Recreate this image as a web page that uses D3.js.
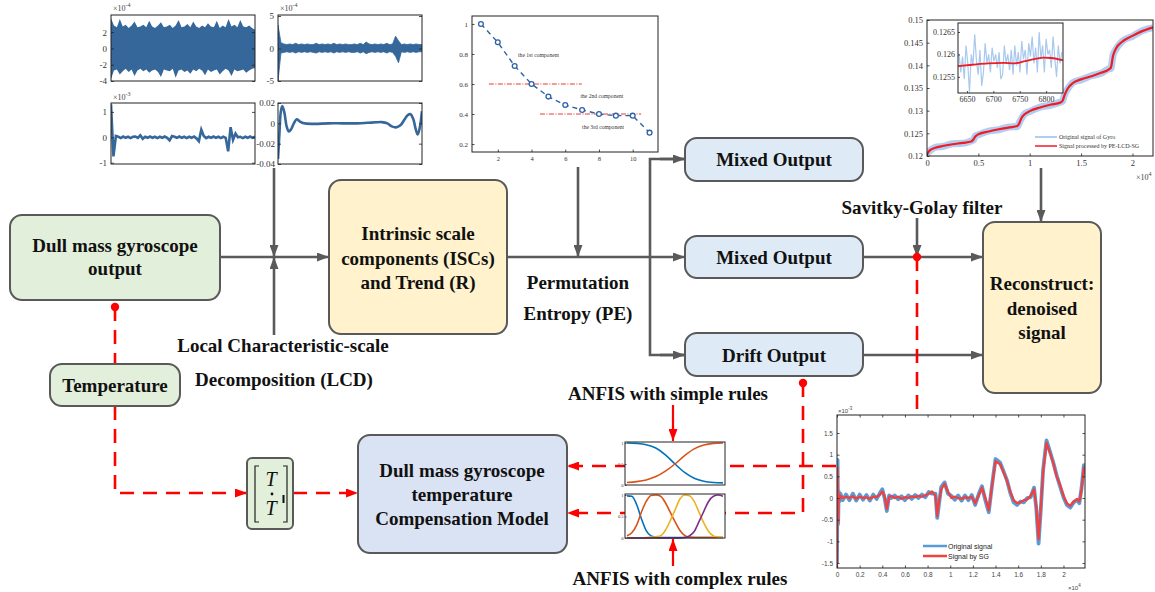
<!DOCTYPE html>
<html><head><meta charset="utf-8">
<script src="https://cdn.jsdelivr.net/npm/d3@7"></script>
<style>body{margin:0;background:#fff}svg{display:block}</style>
</head><body>
<script>
// ---------------- DATA ----------------
// ISC1 envelope (x10^-4)
const isc1Upper=[3.7,2.8,2.6,3.6,2.7,2.9,2.5,2.8,3.3,2.6,2.7,2.9,2.6,3.4,2.7,2.5,2.8,3.2,2.6,2.7,2.9,2.5,2.8,3.5,2.6,2.7,3.0,2.6,3.3,2.7,2.5,2.8,2.6,3.1,2.7,2.6,3.4,2.5,2.8,2.6,3.6,2.7,2.9,2.6,3.5,2.7,2.6,2.8,2.5,2.3];
const isc1Lower=[-3.8,-2.7,-2.6,-3.2,-2.8,-2.5,-2.9,-2.6,-3.4,-2.7,-2.5,-2.8,-2.6,-3.0,-2.7,-2.6,-2.9,-3.5,-2.6,-2.7,-2.8,-2.5,-3.6,-2.7,-2.6,-2.9,-2.7,-3.1,-2.6,-2.8,-2.5,-2.7,-3.3,-2.6,-2.9,-2.7,-2.6,-3.2,-2.8,-2.5,-2.7,-3.4,-2.6,-2.8,-2.7,-2.6,-3.0,-2.7,-2.5,-2.4];
// ISC2 envelope (x10^-4)
const isc2Upper=[3.6,0.9,0.7,0.6,0.7,0.6,0.8,0.6,0.7,0.6,0.7,0.6,0.6,0.8,0.6,0.7,0.6,0.7,0.6,0.8,0.6,0.7,0.6,0.7,0.6,0.6,0.7,0.6,0.8,0.6,1.0,0.7,0.6,0.7,0.6,0.7,0.6,0.8,0.6,0.7,1.9,1.2,0.6,0.7,0.6,0.7,0.6,0.7,0.6,0.6];
const isc2Lower=[-5,-0.7,-0.6,-0.5,-0.6,-0.5,-0.7,-0.5,-0.6,-0.5,-0.6,-0.5,-0.6,-0.7,-0.5,-0.6,-0.5,-0.6,-0.5,-0.7,-0.5,-0.6,-0.5,-0.6,-0.5,-0.6,-0.6,-0.5,-0.7,-0.5,-0.8,-0.6,-0.5,-0.6,-0.5,-0.6,-0.5,-0.7,-0.5,-0.6,-1.2,-2.2,-0.5,-0.6,-0.5,-0.6,-0.5,-0.6,-0.5,-0.5];
// ISC3 (x10^-3)
const isc3=[1.3,-0.75,0.05,0.02,-0.03,0.03,-0.02,0.02,-0.03,0.02,0.03,-0.02,0.08,-0.06,0.02,-0.02,0.03,-0.02,0.02,-0.03,0.02,-0.02,0.03,-0.02,-0.12,0.05,0.02,-0.02,0.03,-0.02,0.02,-0.03,0.02,-0.02,0.03,-0.04,-0.15,0.3,0.05,-0.03,0.02,-0.02,0.03,-0.02,0.02,-0.03,0.02,-0.02,-0.55,0.4,-0.1,0.15,0.0,0.02,-0.03,0.02,-0.02,0.03,-0.02,0.02];
// Trend
const trendX=[0,0.01,0.02,0.03,0.045,0.06,0.075,0.09,0.11,0.13,0.15,0.18,0.25,0.35,0.45,0.55,0.62,0.68,0.72,0.76,0.79,0.82,0.85,0.88,0.9,0.92,0.94,0.955,0.97,0.985,1.0];
const trendY=[-0.035,-0.01,0.012,0.017,0.01,-0.003,-0.008,-0.006,0.0,0.004,0.002,0.0,-0.0005,0.0,0.0,0.0,0.0005,0.001,0.0012,0.0,-0.003,-0.004,-0.002,0.004,0.008,0.009,0.004,-0.005,-0.011,-0.004,0.012];
// Permutation entropy
const peOrder=[1,2,3,4,5,6,7,8,9,10,11];
const peValues=[1.0,0.878,0.72,0.60,0.516,0.46,0.427,0.40,0.389,0.389,0.276];
const peThreshold=[0.6,0.4], peThFrom=[1.47,4.5], peThTo=[6.98,10.5];
const peLabels=["the 1st component","the 2nd component","the 3rd component"];
const peLabelX=[3.2,6.9,7.0], peLabelY=[0.78,0.51,0.30];
// Gyro signal (x10^4 samples)
const gyroX=[0,0.01,0.03,0.08,0.15,0.25,0.35,0.43,0.45,0.47,0.5,0.6,0.7,0.8,0.88,0.9,0.92,0.95,1.0,1.1,1.2,1.3,1.32,1.34,1.37,1.42,1.5,1.6,1.7,1.77,1.79,1.81,1.84,1.9,2.0,2.1,2.2];
const gyroFiltered=[0.1202,0.1207,0.1213,0.1218,0.1222,0.1226,0.1229,0.1232,0.1236,0.1243,0.1248,0.1254,0.1259,0.1263,0.1266,0.1273,0.1284,0.1292,0.1299,0.1307,0.1313,0.1318,0.1322,0.1335,0.1349,0.1361,0.1369,0.1376,0.1384,0.1391,0.1395,0.1420,0.1437,0.1452,0.1465,0.1476,0.1484];
const gyroRaw=[0.1203,0.1208,0.1212,0.1219,0.1221,0.1227,0.1228,0.1233,0.1235,0.1244,0.1247,0.1255,0.1258,0.1264,0.1265,0.1274,0.1283,0.1293,0.1298,0.1308,0.1312,0.1319,0.1321,0.1336,0.1348,0.1362,0.1368,0.1377,0.1383,0.1392,0.1393,0.1421,0.1436,0.1453,0.1464,0.1477,0.1483];
// Inset zoom
const insetStart=6635, insetStep=3.3;
const insetRaw=[0.12600,0.12560,0.12595,0.12545,0.12620,0.12580,0.12515,0.12600,0.12575,0.12645,0.12585,0.12555,0.12610,0.12530,0.12560,0.12625,0.12580,0.12600,0.12560,0.12615,0.12585,0.12600,0.12570,0.12605,0.12545,0.12555,0.12620,0.12580,0.12600,0.12565,0.12610,0.12555,0.12620,0.12575,0.12605,0.12560,0.12630,0.12590,0.12610,0.12555,0.12625,0.12595,0.12640,0.12580,0.12615,0.12560,0.12650,0.12590,0.12620,0.12560,0.12635,0.12600,0.12610,0.12570,0.12640,0.12590,0.12550,0.12620,0.12580,0.12605];
const insetSmoothX=[6633,6660,6690,6720,6740,6760,6780,6795,6810,6832];
const insetSmoothY=[0.12574,0.12577,0.12580,0.12581,0.12580,0.12585,0.12590,0.12593,0.12592,0.12587];
// ANFIS membership functions
const mfX1=[0,0.1,0.2,0.3,0.4,0.5,0.6,0.7,0.8,0.9,1.0];
const mfSimpleLow=[1,0.99,0.96,0.88,0.72,0.5,0.3,0.16,0.09,0.06,0.05];
const mfSimpleHigh=[0.06,0.08,0.12,0.2,0.33,0.5,0.7,0.86,0.95,0.99,1.0];
const mfX2=[0,0.05,0.1,0.15,0.2,0.25,0.3,0.35,0.4,0.45,0.5,0.55,0.6,0.65,0.7,0.75,0.8,0.85,0.9,0.95,1.0];
const mfC1=[0.98,0.97,0.78,0.45,0.17,0.05,0.02,0.01,0.01,0.01,0.01,0.01,0.01,0.01,0.01,0.01,0.01,0.01,0.01,0.01,0.01];
const mfC2=[0.05,0.12,0.3,0.6,0.85,0.99,1.0,0.97,0.82,0.6,0.38,0.18,0.06,0.02,0.01,0.01,0.01,0.01,0.01,0.01,0.01];
const mfC3=[0,0,0,0,0.01,0.02,0.03,0.05,0.18,0.4,0.65,0.9,1.0,0.98,0.85,0.6,0.35,0.15,0.05,0.02,0.01];
const mfC4=[0,0,0,0,0,0,0,0,0,0,0,0,0.01,0.05,0.15,0.38,0.62,0.85,0.97,1.0,0.97];
// SG filter result (x10^-3 vs x10^4 samples)
const sgX=[0,0.005,0.01,0.015,0.02,0.03,0.05,0.08,0.11,0.14,0.17,0.2,0.23,0.26,0.29,0.32,0.35,0.38,0.4,0.42,0.44,0.46,0.48,0.51,0.54,0.57,0.6,0.63,0.66,0.69,0.72,0.75,0.78,0.81,0.84,0.87,0.885,0.9,0.92,0.95,0.98,1.01,1.04,1.07,1.1,1.13,1.16,1.19,1.22,1.25,1.28,1.31,1.34,1.37,1.4,1.44,1.47,1.5,1.53,1.56,1.59,1.62,1.65,1.68,1.71,1.74,1.76,1.78,1.8,1.82,1.85,1.88,1.91,1.94,1.97,2.0,2.03,2.06,2.09,2.12,2.14,2.16,2.18,2.19];
const sgFiltered=[-1.6,0.7,-0.55,0.1,-0.05,0.05,0.0,0.03,0.0,0.04,-0.02,0.03,0.0,0.02,-0.02,0.03,0.02,0.08,0.15,0.05,-0.25,0.02,0.05,0.0,0.03,-0.02,0.02,0.0,0.04,0.02,0.05,0.03,0.06,0.1,0.15,0.05,-0.42,-0.1,0.2,0.33,0.15,0.0,0.03,0.0,-0.02,0.02,0.0,0.03,-0.12,0.05,0.24,0.0,-0.28,0.3,0.85,0.78,0.6,0.4,0.15,-0.05,-0.12,-0.1,-0.05,-0.03,0.05,0.2,-0.2,-0.95,-0.2,0.6,1.28,1.05,0.8,0.5,0.3,0.05,-0.12,-0.18,-0.08,-0.02,-0.08,0.2,0.7,0.62];
const sgOriginal=[-1.5,0.88,-0.6,0.15,-0.08,0.1,-0.05,0.08,-0.05,0.1,-0.06,0.08,-0.04,0.07,-0.06,0.08,-0.02,0.12,0.2,0.0,-0.3,0.06,0.0,0.06,-0.03,0.04,-0.05,0.06,-0.02,0.07,0.0,0.08,0.02,0.14,0.1,0.1,-0.46,-0.15,0.25,0.36,0.1,0.05,-0.04,0.06,-0.06,0.06,-0.05,0.07,-0.16,0.08,0.27,-0.05,-0.33,0.32,0.9,0.82,0.62,0.42,0.12,-0.1,-0.16,-0.08,-0.1,0.0,0.02,0.24,-0.25,-1.05,-0.25,0.65,1.33,1.08,0.82,0.52,0.27,0.02,-0.16,-0.22,-0.1,-0.05,-0.12,0.24,0.76,0.66];
// tick values
const gyroYTicks=[0.12,0.125,0.13,0.135,0.14,0.145,0.15], gyroXTicks=[0,0.5,1,1.5,2];
const insetYTicks=[0.1255,0.126,0.1265], insetXTicks=[6650,6700,6750,6800];
const sgYTicks=[-1.5,-1,-0.5,0,0.5,1,1.5], sgXTicks=[0,0.2,0.4,0.6,0.8,1,1.2,1.4,1.6,1.8,2];
const peYTicks=[0.2,0.4,0.6,0.8,1], peXTicks=[2,4,6,8,10];

// ---------------- DRAWING ----------------
const W=1155,H=592;
const SERIF="'Liberation Serif','Times New Roman',serif";
const SANS="'Liberation Sans',Arial,sans-serif";
const GRAY="#5a5a5a", RED="#ff0000";
const svg=d3.select("body").append("svg").attr("width",W).attr("height",H);
const defs=svg.append("defs");
function marker(id,color){
  defs.append("marker").attr("id",id).attr("viewBox","0 0 12 9").attr("refX",12).attr("refY",4.5)
    .attr("markerWidth",12).attr("markerHeight",9).attr("markerUnits","userSpaceOnUse").attr("orient","auto")
    .append("path").attr("d","M0,0L12,4.5L0,9Z").attr("fill",color);
}
marker("ag",GRAY); marker("ar",RED);
let clipN=0;
function clip(x,y,w,h){const id="c"+(clipN++);defs.append("clipPath").attr("id",id).append("rect").attr("x",x).attr("y",y).attr("width",w).attr("height",h);return "url(#"+id+")";}

const gLines=svg.append("g"), gBoxes=svg.append("g"), gPlots=svg.append("g"), gText=svg.append("g");

function path(pts,color,dashed,arrow,width){
  const p=gLines.append("path").attr("d",d3.line()(pts)).attr("fill","none").attr("stroke",color)
    .attr("stroke-width",width||2.6);
  if(dashed)p.attr("stroke-dasharray","14,9");
  if(arrow)p.attr("marker-end","url(#"+arrow+")");
  return p;
}
function dot(x,y){gLines.append("circle").attr("cx",x).attr("cy",y).attr("r",4.2).attr("fill",RED);}
function box(x,y,w,h,fill){
  gBoxes.append("rect").attr("x",x).attr("y",y).attr("width",w).attr("height",h).attr("rx",12)
    .attr("fill",fill).attr("stroke","#595959").attr("stroke-width",2);
}
function label(lines,cx,cy,spacing,size){
  const n=lines.length;
  lines.forEach((t,i)=>{
    gText.append("text").attr("x",cx).attr("y",cy+(i-(n-1)/2)*spacing+6.5).attr("text-anchor","middle")
      .attr("font-family",SERIF).attr("font-weight","bold").attr("font-size",size||19).attr("fill","#111").text(t);
  });
}

// ---- boxes ----
box(10,215,210,85,"#e2efda");
box(50,364,130,42,"#e2efda");
box(329,180,178,154,"#fff2cc");
box(685,138,178,43,"#deebf7");
box(685,236,178,42,"#deebf7");
box(685,333,178,43,"#deebf7");
box(983,222,118,171,"#fff2cc");
box(358,435,209,118,"#dae3f3");
gBoxes.append("rect").attr("x",247).attr("y",458).attr("width",46).attr("height",71).attr("rx",5)
  .attr("fill","#e2efda").attr("stroke","#595959").attr("stroke-width",2);

// ---- texts ----
label(["Dull mass gyroscope","output"],115,257,23);
label(["Temperature"],115,385,23);
label(["Intrinsic scale","components (ISCs)","and Trend (R)"],418,258,24.5);
label(["Local Characteristic-scale"],283,345,0);
label(["Decomposition (LCD)"],284,379,0);
label(["Permutation"],578,282,0);
label(["Entropy (PE)"],578,313,0);
label(["Mixed Output"],774,159,0);
label(["Mixed Output"],774,257,0);
label(["Drift Output"],774,355,0);
label(["Savitky-Golay filter"],922,207,0);
label(["Reconstruct:","denoised","signal"],1042,308,24.5);
label(["Dull mass gyroscope","temperature","Compensation Model"],462,494,24);
label(["ANFIS with simple rules"],668,393,0);
label(["ANFIS with complex rules"],680,578,0);

// T matrix
const tg=gText.append("g");
tg.append("path").attr("d","M259,466H255V522H259M283,466H287V522H283").attr("fill","none").attr("stroke","#222").attr("stroke-width",1.2);
tg.append("text").attr("x",271).attr("y",486).attr("text-anchor","middle").attr("font-family",SERIF).attr("font-style","italic").attr("font-size",20).attr("fill","#111").text("T");
tg.append("text").attr("x",271).attr("y",515).attr("text-anchor","middle").attr("font-family",SERIF).attr("font-style","italic").attr("font-size",20).attr("fill","#111").text("T");
tg.append("circle").attr("cx",272).attr("cy",494).attr("r",1.4).attr("fill","#111");
tg.append("rect").attr("x",282.5).attr("y",495).attr("width",2).attr("height",8).attr("fill","#111");

// ---- gray connectors ----
path([[220,257],[329,257]],GRAY,false,"ag");
path([[274,168],[274,257]],GRAY,false,"ag");
path([[274,335],[274,257]],GRAY,false,"ag");
path([[507,257],[685,257]],GRAY,false,"ag");
path([[578,167],[578,257]],GRAY,false,"ag");
path([[685,159],[650,159],[650,355],[685,355]],GRAY,false,null);
path([[660,159],[685,159]],GRAY,false,"ag");
path([[660,355],[685,355]],GRAY,false,"ag");
path([[863,257],[983,257]],GRAY,false,"ag");
path([[863,355],[983,355]],GRAY,false,"ag");
path([[917,218],[917,257]],GRAY,false,"ag");
path([[1041,168],[1041,222]],GRAY,false,"ag");

// ---- red connectors ----
path([[115,307],[115,364]],RED,true,null);
path([[115,406],[115,493],[247,493]],RED,true,"ar");
path([[293,493],[358,493]],RED,true,"ar");
path([[917,257],[917,417]],RED,true,null);
path([[836,466],[567,466]],RED,true,"ar");
path([[803,383],[803,513],[567,513]],RED,true,"ar");
path([[673,405],[673,441]],RED,false,"ar",2.2);
path([[673,566],[673,539]],RED,false,"ar",2.2);
dot(115,307); dot(917,257); dot(803,383);

// ---------------- mini plots ----------------
function frame(g,x,y,w,h,bg){
  if(bg)g.append("rect").attr("x",x).attr("y",y).attr("width",w).attr("height",h).attr("fill","#fff");
  return ()=>g.append("rect").attr("x",x).attr("y",y).attr("width",w).attr("height",h).attr("fill","none").attr("stroke","#222").attr("stroke-width",1);
}
function axis(g,gen,tx,ty,font,size,color){
  const a=g.append("g").attr("transform",`translate(${tx},${ty})`).call(gen);
  a.attr("font-family",font).attr("font-size",size);
  a.select(".domain").remove();
  a.selectAll("line").attr("stroke","#222").attr("stroke-width",0.8);
  a.selectAll("text").attr("fill",color||"#333");
  return a;
}
function expLabel(g,x,y,base,exp,font,size){
  const t=g.append("text").attr("x",x).attr("y",y).attr("font-family",font).attr("font-size",size).attr("fill","#444");
  t.append("tspan").text(base);
  t.append("tspan").attr("dy",-size*0.45).attr("font-size",size*0.75).text(exp);
}
const fmtStr=d=>String(d);
const BLUE="#35679b";

// Plot 1: ISC1
(function(){
  const g=gPlots.append("g"); const x0=111,y0=15,w=144,h=66;
  const close=frame(g,x0,y0,w,h,true);
  const x=d3.scaleLinear([0,isc1Upper.length-1],[x0,x0+w]);
  const y=d3.scaleLinear([-4,4.1],[y0+h,y0]);
  g.append("path").attr("clip-path",clip(x0,y0,w,h)).attr("fill",BLUE)
    .attr("d",d3.area().x((d,i)=>x(i)).y0((d,i)=>y(isc1Lower[i])).y1(d=>y(d))(isc1Upper));
  axis(g,d3.axisLeft(y).tickValues([-4,-2,0,2]).tickSize(-3).tickPadding(4).tickFormat(fmtStr),x0,0,SERIF,9);
  axis(g,d3.axisRight(y).tickValues([-4,-2,0,2]).tickSize(-3).tickFormat(""),x0+w,0,SERIF,9);
  expLabel(g,x0+2,11,"×10","-4",SERIF,8);
  close();
})();
// Plot 2: ISC2
(function(){
  const g=gPlots.append("g"); const x0=278,y0=15,w=144,h=66;
  const close=frame(g,x0,y0,w,h,true);
  const x=d3.scaleLinear([0,isc2Upper.length-1],[x0,x0+w]);
  const y=d3.scaleLinear([-5,5],[y0+h,y0+1]);
  g.append("path").attr("clip-path",clip(x0,y0,w,h)).attr("fill",BLUE).attr("stroke",BLUE).attr("stroke-width",0.8)
    .attr("d",d3.area().x((d,i)=>x(i)).y0((d,i)=>y(isc2Lower[i])).y1(d=>y(d))(isc2Upper));
  axis(g,d3.axisLeft(y).tickValues([-5,0,5]).tickSize(-3).tickPadding(4).tickFormat(fmtStr),x0,0,SERIF,9);
  axis(g,d3.axisRight(y).tickValues([-5,0,5]).tickSize(-3).tickFormat(""),x0+w,0,SERIF,9);
  expLabel(g,x0+2,11,"×10","-4",SERIF,8);
  close();
})();
// Plot 3: ISC3
(function(){
  const g=gPlots.append("g"); const x0=111,y0=103,w=144,h=61;
  const close=frame(g,x0,y0,w,h,true);
  const x=d3.scaleLinear([0,isc3.length-1],[x0,x0+w]);
  const y=d3.scaleLinear([-1.05,1.35],[y0+h,y0]);
  g.append("path").attr("clip-path",clip(x0,y0,w,h)).attr("fill","none").attr("stroke",BLUE).attr("stroke-width",2.6)
    .attr("d",d3.line().x((d,i)=>x(i)).y(d=>y(d))(isc3));
  axis(g,d3.axisLeft(y).tickValues([-1,0,1]).tickSize(-3).tickPadding(4).tickFormat(fmtStr),x0,0,SERIF,9);
  axis(g,d3.axisRight(y).tickValues([-1,0,1]).tickSize(-3).tickFormat(""),x0+w,0,SERIF,9);
  expLabel(g,x0+2,100,"×10","-3",SERIF,8);
  close();
})();
// Plot 4: Trend
(function(){
  const g=gPlots.append("g"); const x0=278,y0=103,w=144,h=61;
  const close=frame(g,x0,y0,w,h,true);
  const x=d3.scaleLinear([0,1],[x0,x0+w]);
  const y=d3.scaleLinear([-0.04,0.02],[y0+h,y0]);
  g.append("path").attr("clip-path",clip(x0,y0,w,h)).attr("fill","none").attr("stroke",BLUE).attr("stroke-width",2.6)
    .attr("d",d3.line().curve(d3.curveCatmullRom).x((d,i)=>x(trendX[i])).y(d=>y(d))(trendY));
  axis(g,d3.axisLeft(y).tickValues([-0.04,-0.02,0,0.02]).tickSize(-3).tickPadding(3).tickFormat(fmtStr),x0,0,SERIF,9);
  axis(g,d3.axisRight(y).tickValues([-0.04,-0.02,0,0.02]).tickSize(-3).tickFormat(""),x0+w,0,SERIF,9);
  close();
})();
// PE plot
(function(){
  const g=gPlots.append("g"); const x0=472,y0=16,w=186,h=136;
  const close=frame(g,x0,y0,w,h,true);
  const x=d3.scaleLinear([0.47,11.5],[x0,x0+w]);
  const y=d3.scaleLinear([0.147,1.053],[y0+h,y0]);
  peThreshold.forEach((v,i)=>{
    g.append("line").attr("x1",x(peThFrom[i])).attr("x2",x(peThTo[i])).attr("y1",y(v)).attr("y2",y(v))
      .attr("stroke","#e8231e").attr("stroke-width",0.9).attr("stroke-dasharray","5,1.5,1,1.5");
  });
  g.append("path").attr("fill","none").attr("stroke","#2e62a6").attr("stroke-width",1.4).attr("stroke-dasharray","5,4")
    .attr("d",d3.line().x((d,i)=>x(peOrder[i])).y(d=>y(d))(peValues));
  g.selectAll(".pt").data(peValues).enter().append("circle").attr("cx",(d,i)=>x(peOrder[i])).attr("cy",d=>y(d))
    .attr("r",2.4).attr("fill","#fff").attr("stroke","#2e62a6").attr("stroke-width",1.3);
  peLabels.forEach((t,i)=>g.append("text").attr("x",x(peLabelX[i])).attr("y",y(peLabelY[i])).attr("font-family",SERIF).attr("font-size",5.6).attr("fill","#333").text(t));
  axis(g,d3.axisLeft(y).tickValues(peYTicks).tickSize(-2.5).tickPadding(4).tickFormat(fmtStr),x0,0,SERIF,7);
  axis(g,d3.axisBottom(x).tickValues(peXTicks).tickSize(-2.5).tickPadding(4).tickFormat(fmtStr),0,y0+h,SERIF,6.5);
  close();
})();
// Gyro plot + inset
(function(){
  const g=gPlots.append("g"); const x0=927,y0=20,w=226,h=136;
  const close=frame(g,x0,y0,w,h,true);
  const x=d3.scaleLinear([0,2.2],[x0,x0+w]);
  const y=d3.scaleLinear([0.12,0.15],[y0+h,y0]);
  const cp=clip(x0,y0,w,h);
  g.append("path").attr("clip-path",cp).attr("fill","none").attr("stroke","#b2cdef").attr("stroke-width",7)
    .attr("d",d3.line().curve(d3.curveMonotoneX).x((d,i)=>x(gyroX[i])).y(d=>y(d))(gyroRaw));
  g.append("path").attr("clip-path",cp).attr("fill","none").attr("stroke","#ee1c24").attr("stroke-width",2.2)
    .attr("d",d3.line().curve(d3.curveMonotoneX).x((d,i)=>x(gyroX[i])).y(d=>y(d))(gyroFiltered));
  axis(g,d3.axisLeft(y).tickValues(gyroYTicks).tickSize(-2.5).tickPadding(4).tickFormat(fmtStr),x0,0,SERIF,8.5);
  axis(g,d3.axisBottom(x).tickValues(gyroXTicks).tickSize(-2.5).tickPadding(4).tickFormat(fmtStr),0,y0+h,SERIF,8.5);
  expLabel(g,1136,180,"×10","4",SERIF,8);
  // legend
  g.append("line").attr("x1",1035).attr("x2",1057).attr("y1",137).attr("y2",137).attr("stroke","#b2cdef").attr("stroke-width",2);
  g.append("line").attr("x1",1035).attr("x2",1057).attr("y1",146).attr("y2",146).attr("stroke","#ee1c24").attr("stroke-width",1.5);
  g.append("text").attr("x",1059).attr("y",139).attr("font-family",SERIF).attr("font-size",6).attr("fill","#333").text("Original signal of Gyro");
  g.append("text").attr("x",1059).attr("y",148).attr("font-family",SERIF).attr("font-size",6).attr("fill","#333").text("Signal processed by PE-LCD-SG");
  close();
  // inset
  const ix0=958,iy0=23,iw=105,ih=70;
  const iclose=frame(g,ix0,iy0,iw,ih,true);
  const ix=d3.scaleLinear([6633,6832],[ix0,ix0+iw]);
  const iy=d3.scaleLinear([0.12514,0.1267],[iy0+ih,iy0]);
  const icp=clip(ix0,iy0,iw,ih);
  g.append("path").attr("clip-path",icp).attr("fill","none").attr("stroke","#a9c9ee").attr("stroke-width",1.2)
    .attr("d",d3.line().x((d,i)=>ix(insetStart+i*insetStep)).y(d=>iy(d))(insetRaw));
  g.append("path").attr("clip-path",icp).attr("fill","none").attr("stroke","#ee1c24").attr("stroke-width",1.8)
    .attr("d",d3.line().curve(d3.curveMonotoneX).x((d,i)=>ix(insetSmoothX[i])).y(d=>iy(d))(insetSmoothY));
  axis(g,d3.axisLeft(iy).tickValues(insetYTicks).tickSize(-2).tickPadding(3).tickFormat(fmtStr),ix0,0,SERIF,8);
  axis(g,d3.axisBottom(ix).tickValues(insetXTicks).tickSize(-2).tickPadding(3).tickFormat(fmtStr),0,iy0+ih,SERIF,8);
  iclose();
})();
// ANFIS simple
function mfPlot(y0,h,xs,series,colors){
  const g=gPlots.append("g"); const x0=625,w=100;
  const close=frame(g,x0,y0,w,h,true);
  const x=d3.scaleLinear([0,1],[x0+2,x0+w-2]);
  const y=d3.scaleLinear([0,1],[y0+h,y0+1]);
  series.forEach((s,k)=>g.append("path").attr("fill","none").attr("stroke",colors[k]).attr("stroke-width",1.6)
    .attr("d",d3.line().curve(d3.curveMonotoneX).x((d,i)=>x(xs[i])).y(d=>y(d))(s)));
  axis(g,d3.axisLeft(y).tickValues([0,0.5,1]).tickSize(-1.5).tickPadding(1.5).tickFormat(fmtStr),x0,0,SERIF,4.5);
  close();
}
mfPlot(442,43,mfX1,[mfSimpleLow,mfSimpleHigh],["#0072bd","#d95319"]);
mfPlot(494,44,mfX2,[mfC1,mfC2,mfC3,mfC4],["#0072bd","#d95319","#edb120","#7e2f8e"]);
// SG plot
(function(){
  const g=gPlots.append("g"); const x0=837,y0=415,w=248,h=153;
  const close=frame(g,x0,y0,w,h,true);
  const x=d3.scaleLinear([0,2.19],[x0,x0+w]);
  const y=d3.scaleLinear([-1.615,1.916],[y0+h,y0]);
  const cp=clip(x0,y0,w,h);
  g.append("path").attr("clip-path",cp).attr("fill","none").attr("stroke","#5b9bd5").attr("stroke-width",3.8).attr("stroke-linejoin","round")
    .attr("d",d3.line().x((d,i)=>x(sgX[i])).y(d=>y(d))(sgOriginal));
  g.append("path").attr("clip-path",cp).attr("fill","none").attr("stroke","#f0403f").attr("stroke-width",2.3).attr("stroke-linejoin","round")
    .attr("d",d3.line().x((d,i)=>x(sgX[i])).y(d=>y(d))(sgFiltered));
  axis(g,d3.axisLeft(y).tickValues(sgYTicks).tickSize(-2.5).tickPadding(4).tickFormat(fmtStr),x0,0,SANS,6.5,"#444");
  axis(g,d3.axisRight(y).tickValues(sgYTicks).tickSize(-2.5).tickFormat(""),x0+w,0,SANS,6.5);
  axis(g,d3.axisBottom(x).tickValues(sgXTicks).tickSize(-2.5).tickPadding(4).tickFormat(fmtStr),0,y0+h,SANS,6.5,"#444");
  axis(g,d3.axisTop(x).tickValues(sgXTicks).tickSize(-2.5).tickFormat(""),0,y0,SANS,6.5);
  expLabel(g,838,413,"×10","-3",SANS,6);
  expLabel(g,1068,590,"×10","4",SANS,6);
  g.append("line").attr("x1",923).attr("x2",947).attr("y1",546).attr("y2",546).attr("stroke","#5b9bd5").attr("stroke-width",2.5);
  g.append("line").attr("x1",923).attr("x2",947).attr("y1",556).attr("y2",556).attr("stroke","#f0403f").attr("stroke-width",2.5);
  g.append("text").attr("x",948).attr("y",548.5).attr("font-family",SANS).attr("font-size",7).attr("fill","#222").text("Original signal");
  g.append("text").attr("x",948).attr("y",558.5).attr("font-family",SANS).attr("font-size",7).attr("fill","#222").text("Signal by SG");
  close();
})();
</script>
</body></html>
